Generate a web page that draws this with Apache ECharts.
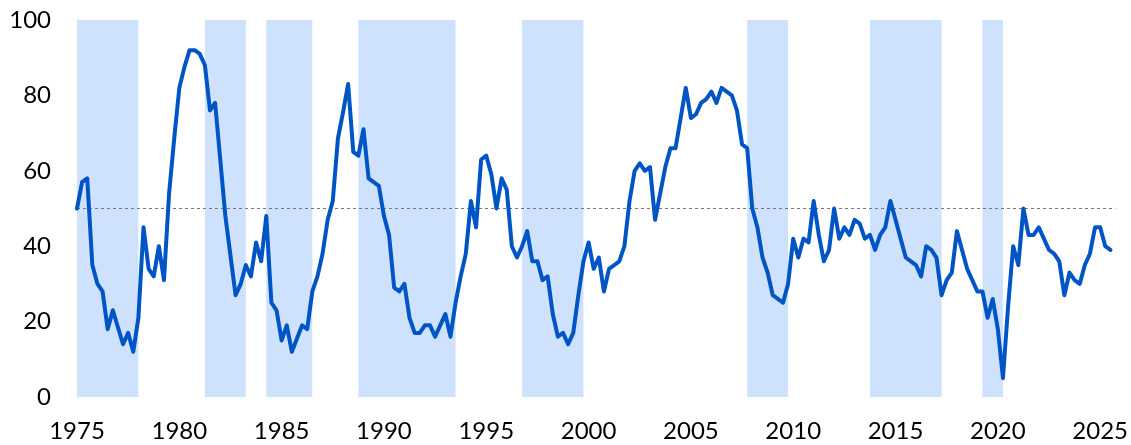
<!DOCTYPE html>
<html>
<head>
<meta charset="utf-8">
<script src="https://cdn.jsdelivr.net/npm/echarts@6/dist/echarts.min.js"></script>
<style>
html,body{margin:0;padding:0;background:#fff;}
#chart{width:1131px;height:445px;}
</style>
</head>
<body>
<div id="chart"></div>
<script>
// Quarterly series starting 1975 Q1
const startYear = 1975;
const quarterStep = 0.25;
const values = [
  50, 57, 58, 35, 30, 28, 18, 23, 18.5, 14,
  17, 12, 21, 45, 34, 32, 40, 31, 54, 68.5,
  82, 87.5, 92, 92, 91, 88, 76, 78, 63, 48,
  37.5, 27, 30, 35, 32, 41, 36, 48, 25, 23,
  15, 19, 12, 15.5, 19, 18, 28, 32, 38, 47,
  52, 68.5, 75.5, 83, 65, 64, 71, 58, 57, 56,
  48, 43, 29, 28, 30, 21, 17, 17, 19, 19,
  16, 19, 22, 16, 25, 32, 38, 52, 45, 63,
  64, 59, 50, 58, 55, 40, 37, 40, 44, 36,
  36, 31, 32, 22, 16, 17, 14, 17, 27, 36,
  41, 34, 37, 28, 34, 35, 36, 40, 52, 60,
  62, 60, 61, 47, 54, 61, 66, 66, 74, 82,
  74, 75, 78, 79, 81, 78, 82, 81, 80, 76,
  67, 66, 50, 45, 37, 33, 27, 26, 25, 30,
  42, 37, 42, 41, 52, 43, 36, 39, 50, 42,
  45, 43, 47, 46, 42, 43, 39, 43, 45, 52,
  47, 42, 37, 36, 35, 32, 40, 39, 37, 27,
  31, 33, 44, 39, 34, 31, 28, 28, 21, 26,
  18, 5, 24, 40, 35, 50, 43, 43, 45, 42,
  39, 38, 36, 27, 33, 31, 30, 35, 38, 45,
  45, 40, 39
];
// Shaded periods (start, end) in years
const bandStarts = [1975, 1981.25, 1984.25, 1988.75, 1996.75, 2007.75, 2013.75, 2019.25];
const bandEnds   = [1978, 1983.25, 1986.5, 1993.5, 1999.75, 2009.75, 2017.25, 2020.25];
const yTicks = [0, 20, 40, 60, 80, 100];
const xLabelYears = [1975, 1980, 1985, 1990, 1995, 2000, 2005, 2010, 2015, 2020, 2025];
const refLevel = 50;

const seriesData = values.map((v, i) => [startYear + i * quarterStep, v]);
const areas = bandStarts.map((s, i) => [{xAxis: s}, {xAxis: bandEnds[i]}]);

const chart = echarts.init(document.getElementById('chart'), null, {renderer: 'canvas'});
const fontFamily = 'Lato, "Open Sans", sans-serif';
chart.setOption({
  animation: false,
  backgroundColor: '#ffffff',
  grid: {left: 77, right: 14, top: 20, bottom: 48, containLabel: false},
  xAxis: {
    type: 'value',
    min: 1975,
    max: 2025.75,
    interval: 5,
    axisLine: {show: false},
    axisTick: {show: false},
    splitLine: {show: false},
    axisLabel: {
      margin: 22,
      color: '#000',
      fontSize: 24,
      fontFamily: fontFamily,
      formatter: v => xLabelYears.includes(v) ? String(v) : ''
    }
  },
  yAxis: {
    type: 'value',
    min: yTicks[0],
    max: yTicks[yTicks.length - 1],
    interval: 20,
    axisLine: {show: true, lineStyle: {color: '#8c8c8c', width: 1}},
    axisTick: {show: false},
    splitLine: {show: false},
    axisLabel: {
      margin: 26,
      color: '#000',
      fontSize: 24,
      fontFamily: fontFamily
    }
  },
  series: [{
    type: 'line',
    data: seriesData,
    showSymbol: false,
    symbol: 'none',
    lineStyle: {color: '#0055c6', width: 4, join: 'round', cap: 'round'},
    z: 5,
    markArea: {
      silent: true,
      itemStyle: {color: '#cfe2fd'},
      data: areas
    },
    markLine: {
      silent: true,
      symbol: ['none', 'none'],
      label: {show: false},
      lineStyle: {color: '#777', width: 1, type: [3, 3]},
      data: [{yAxis: refLevel}]
    }
  }]
});
</script>
</body>
</html>
